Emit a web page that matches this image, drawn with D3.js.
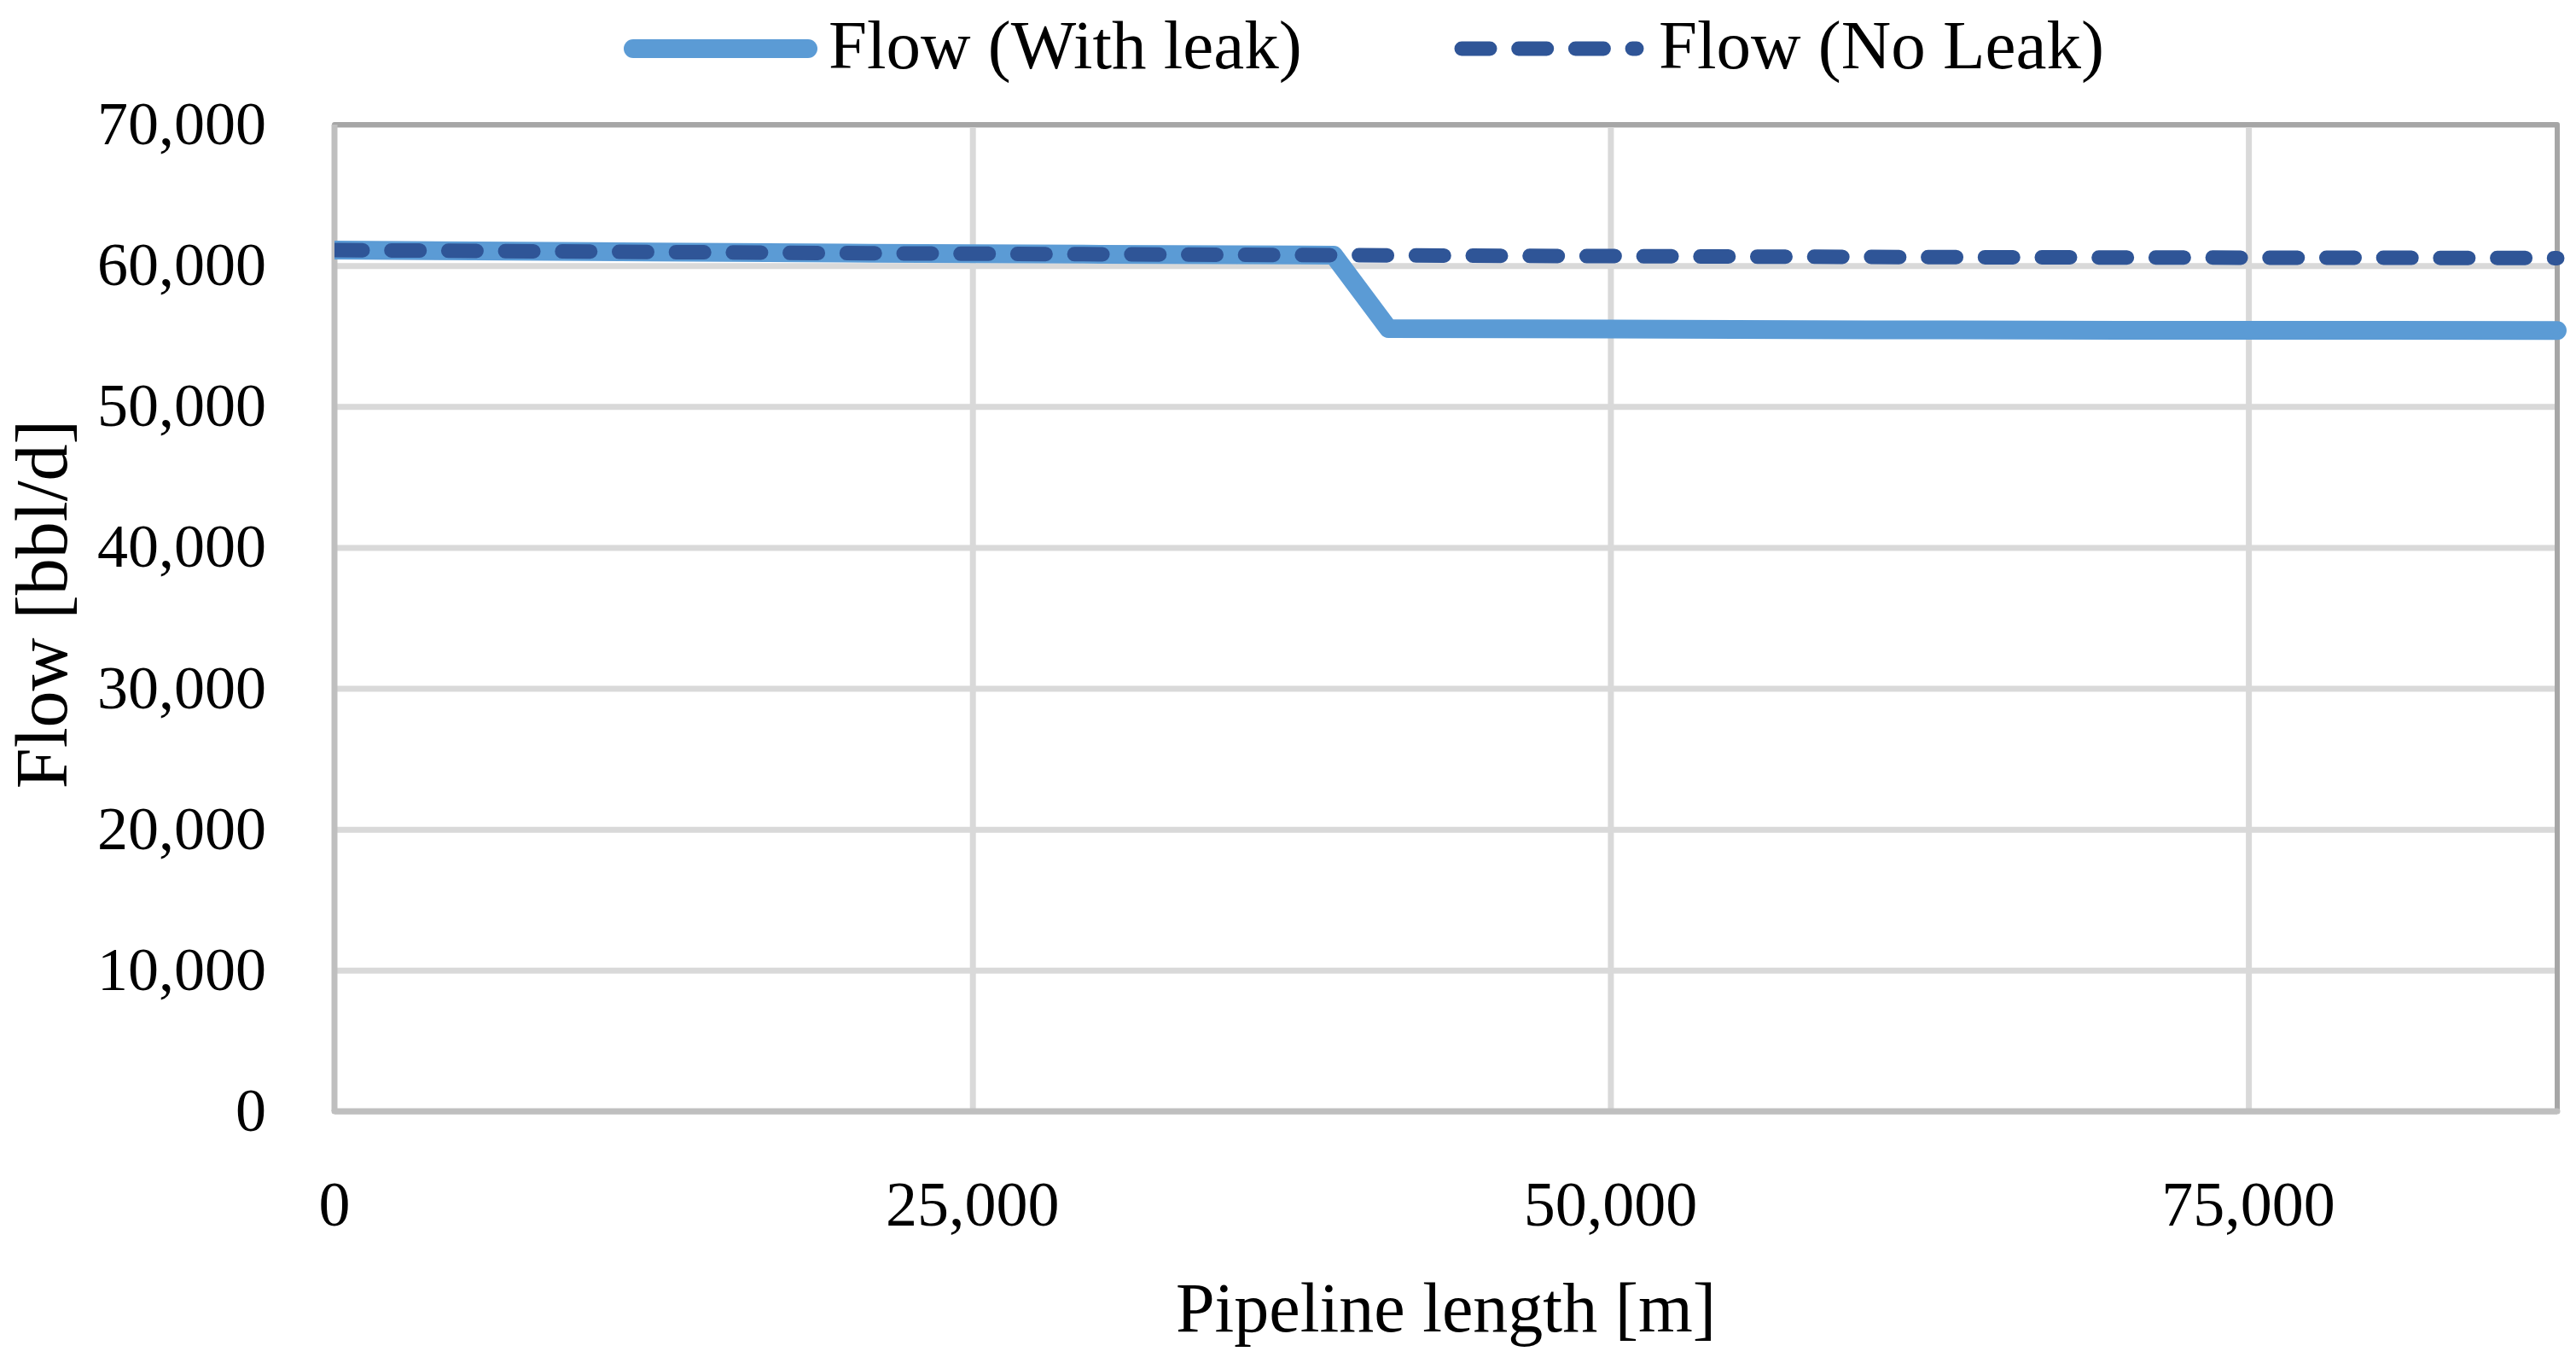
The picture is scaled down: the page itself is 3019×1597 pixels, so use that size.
<!DOCTYPE html>
<html>
<head>
<meta charset="utf-8">
<script src="https://cdn.jsdelivr.net/npm/d3@7"></script>
<style>
  html, body { margin: 0; padding: 0; background: #fff; }
  text { font-family: "Palatino Linotype", "Book Antiqua", Palatino, "Liberation Serif", serif; fill: #000; }
</style>
</head>
<body>
<div id="chart"></div>
<script>
// Flow along the pipeline, with and without a leak

// pipeline positions [m]
const positions = [0, 10000, 20000, 30000, 39150, 41300, 50000, 60000, 70000, 80000, 87100];
// flow [bbl/d]
const flowWithLeak = [61100, 60990, 60880, 60800, 60740, 55530, 55490, 55440, 55410, 55400, 55390];
const flowNoLeak   = [61100, 60990, 60880, 60800, 60740, 60720, 60670, 60610, 60570, 60550, 60530];

const yTicks = [0, 10000, 20000, 30000, 40000, 50000, 60000, 70000];
const xTicks = [0, 25000, 50000, 75000];
const seriesNames = ['Flow (With leak)', 'Flow (No Leak)'];

const W = 3019, H = 1597;
const plot = { left: 392, right: 2997, top: 146, bottom: 1302 };

const svg = d3.select('#chart')
  .append('svg')
  .attr('width', W)
  .attr('height', H);

const x = d3.scaleLinear().domain([0, 87100]).range([plot.left, plot.right]);
const y = d3.scaleLinear().domain([0, 70000]).range([plot.bottom, plot.top]);

const fmt = d3.format(',');

// gridlines
svg.append('g')
  .attr('transform', `translate(${plot.left},0)`)
  .call(d3.axisLeft(y).tickValues(yTicks).tickSize(-(plot.right - plot.left)).tickFormat(''))
  .call(g => g.select('.domain').remove())
  .call(g => g.selectAll('line').attr('stroke', '#d9d9d9').attr('stroke-width', 7));

svg.append('g')
  .attr('transform', `translate(0,${plot.bottom})`)
  .call(d3.axisBottom(x).tickValues(xTicks.slice(1)).tickSize(-(plot.bottom - plot.top)).tickFormat(''))
  .call(g => g.select('.domain').remove())
  .call(g => g.selectAll('line').attr('stroke', '#d9d9d9').attr('stroke-width', 7));

// plot area border
svg.append('rect')
  .attr('x', plot.left).attr('y', plot.top)
  .attr('width', plot.right - plot.left).attr('height', plot.bottom - plot.top)
  .attr('fill', 'none').attr('stroke', '#a6a6a6').attr('stroke-width', 6)
  .attr('stroke-linejoin', 'round');

// axis lines
svg.append('line')
  .attr('x1', plot.left).attr('x2', plot.left).attr('y1', plot.top).attr('y2', plot.bottom)
  .attr('stroke', '#bfbfbf').attr('stroke-width', 7);
svg.append('line')
  .attr('x1', plot.left).attr('x2', plot.right).attr('y1', plot.bottom).attr('y2', plot.bottom)
  .attr('stroke', '#bfbfbf').attr('stroke-width', 7).attr('stroke-linecap', 'round');

// tick labels
svg.append('g')
  .selectAll('text')
  .data(yTicks)
  .join('text')
  .attr('x', 312)
  .attr('y', d => y(d) + 23)
  .attr('text-anchor', 'end')
  .attr('font-size', 72)
  .text(d => fmt(d));

svg.append('g')
  .selectAll('text')
  .data(xTicks)
  .join('text')
  .attr('x', d => x(d))
  .attr('y', 1436)
  .attr('text-anchor', 'middle')
  .attr('font-size', 74)
  .text(d => fmt(d));

// axis titles
svg.append('text')
  .attr('x', (plot.left + plot.right) / 2)
  .attr('y', 1560)
  .attr('text-anchor', 'middle')
  .attr('font-size', 82)
  .text('Pipeline length [m]');

svg.append('text')
  .attr('transform', 'translate(78,708) rotate(-90)')
  .attr('text-anchor', 'middle')
  .attr('font-size', 86)
  .text('Flow [bbl/d]');

// clip lines at the left edge of the plot
svg.append('clipPath').attr('id', 'clip')
  .append('rect')
  .attr('x', plot.left).attr('y', 0)
  .attr('width', W - plot.left).attr('height', H);

const line = d3.line()
  .x(d => x(d[0]))
  .y(d => y(d[1]));

const lines = svg.append('g').attr('clip-path', 'url(#clip)');

lines.append('path')
  .datum(d3.zip(positions, flowWithLeak))
  .attr('d', line)
  .attr('fill', 'none')
  .attr('stroke', '#5b9bd5')
  .attr('stroke-width', 22)
  .attr('stroke-linecap', 'round')
  .attr('stroke-linejoin', 'round');

lines.append('path')
  .datum(d3.zip(positions, flowNoLeak))
  .attr('d', line)
  .attr('fill', 'none')
  .attr('stroke', '#2f5597')
  .attr('stroke-width', 17)
  .attr('stroke-dasharray', '33,33.7')
  .attr('stroke-linecap', 'round')
  .attr('stroke-linejoin', 'round');

// legend
const legend = svg.append('g');
legend.append('line')
  .attr('x1', 742).attr('x2', 947).attr('y1', 57).attr('y2', 57)
  .attr('stroke', '#5b9bd5').attr('stroke-width', 22).attr('stroke-linecap', 'round');
legend.append('text')
  .attr('x', 971).attr('y', 80)
  .attr('font-size', 81)
  .text(seriesNames[0]);

legend.append('line')
  .attr('x1', 1713).attr('x2', 1918).attr('y1', 57).attr('y2', 57)
  .attr('stroke', '#2f5597').attr('stroke-width', 17)
  .attr('stroke-dasharray', '33,33.7')
  .attr('stroke-linecap', 'round');
legend.append('text')
  .attr('x', 1944).attr('y', 80)
  .attr('font-size', 81)
  .text(seriesNames[1]);
</script>
</body>
</html>
